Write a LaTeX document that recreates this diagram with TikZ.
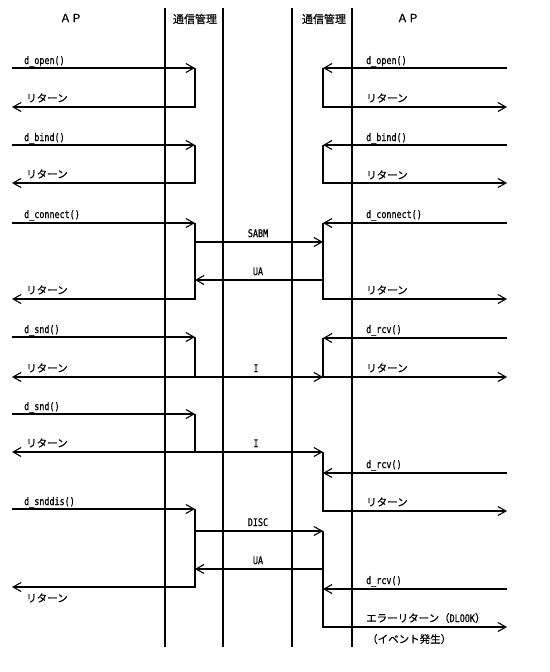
\documentclass[tikz,border=0pt]{standalone}
\usepackage{fontspec}
\setmainfont[FakeStretch=0.8, FakeBold=0.6]{DejaVu Sans Mono}
\newfontfamily\jpfont[FakeBold=0.6]{Noto Sans CJK JP}
\usetikzlibrary{arrows.meta}

\begin{document}
\begin{tikzpicture}[x=1pt, y=-1pt, >={Straight Barb[length=8pt,width=9pt]},
    msg/.style={line width=1.1pt},
    life/.style={line width=1.8pt},
    thicklife/.style={line width=2.6pt},
    lbl/.style={anchor=base west, inner sep=0pt, font=\fontsize{10.5}{12}\selectfont},
    jlbl/.style={anchor=base west, inner sep=0pt, font=\jpfont\fontsize{10.5}{12}\selectfont},
    mlbl/.style={anchor=base, inner sep=0pt, font=\fontsize{10.5}{12}\selectfont},
    head/.style={inner sep=0pt, font=\jpfont\fontsize{11}{12}\selectfont}]
    \useasboundingbox (0,0) rectangle (549,672);

    % Headings
    \node[head] (apL) at (71,18) {ＡＰ};
    \node[head] (comL) at (195,19) {通信管理};
    \node[head] (comR) at (324,19) {通信管理};
    \node[head] (apR) at (408,18) {ＡＰ};

    % Lifelines
    \coordinate (l1t) at (165,8);  \coordinate (l1b) at (165,647);
    \coordinate (l2t) at (223,8);  \coordinate (l2b) at (223,647);
    \coordinate (l3t) at (292,8);  \coordinate (l3b) at (292,647);
    \coordinate (l4t) at (352,8);  \coordinate (l4b) at (352,647);
    \draw[life] (l1t) -- (l1b);
    \draw[thicklife] (l2t) -- (l2b);
    \draw[thicklife] (l3t) -- (l3b);
    \draw[life] (l4t) -- (l4b);

    % d_open
    \coordinate (la1) at (12,68);  \coordinate (lb1) at (195,68);
    \coordinate (la2) at (12,107); \coordinate (lb2) at (195,107);
    \coordinate (ra1) at (507,68);  \coordinate (rb1) at (323,68);
    \coordinate (ra2) at (507,107); \coordinate (rb2) at (323,107);
    \draw[msg,->] (la1) -- (lb1);
    \draw[msg,->] (lb1) -- (lb2) -- (la2);
    \draw[msg,->] (ra1) -- (rb1);
    \draw[msg,->] (rb1) -- (rb2) -- (ra2);
    \node[lbl] (openL) at (24,64) {d\_open()};
    \node[jlbl] (retL1) at (26,102) {リターン};
    \node[lbl] (openR) at (366,64) {d\_open()};
    \node[jlbl] (retR1) at (366,102) {リターン};

    % d_bind
    \coordinate (la3) at (12,145);  \coordinate (lb3) at (195,145);
    \coordinate (la4) at (12,183);  \coordinate (lb4) at (195,183);
    \coordinate (ra3) at (507,145); \coordinate (rb3) at (323,145);
    \coordinate (ra4) at (507,183); \coordinate (rb4) at (323,183);
    \draw[msg,->] (la3) -- (lb3);
    \draw[msg,->] (lb3) -- (lb4) -- (la4);
    \draw[msg,->] (ra3) -- (rb3);
    \draw[msg,->] (rb3) -- (rb4) -- (ra4);
    \node[lbl] (bindL) at (24,141) {d\_bind()};
    \node[jlbl] (retL2) at (26,178) {リターン};
    \node[lbl] (bindR) at (366,141) {d\_bind()};
    \node[jlbl] (retR2) at (366,179) {リターン};

    % d_connect
    \coordinate (la5) at (12,223);  \coordinate (lb5) at (195,223);
    \coordinate (lb6) at (195,242); \coordinate (lb7) at (195,280);
    \coordinate (la8) at (12,299);  \coordinate (lb8) at (195,299);
    \coordinate (ra5) at (507,223); \coordinate (rb5) at (323,223);
    \coordinate (rb6) at (323,242); \coordinate (rb7) at (323,280);
    \coordinate (ra8) at (507,299); \coordinate (rb8) at (323,299);
    \draw[msg,->] (la5) -- (lb5);
    \draw[msg,->] (lb5) -- (lb8) -- (la8);
    \draw[msg,->] (lb6) -- (rb6);
    \draw[msg,->] (rb7) -- (lb7);
    \draw[msg,->] (ra5) -- (rb5);
    \draw[msg,->] (rb5) -- (rb8) -- (ra8);
    \node[lbl] (connL) at (24,218) {d\_connect()};
    \node[mlbl] (sabm) at (258,237) {SABM};
    \node[mlbl] (ua1) at (258,275) {UA};
    \node[jlbl] (retL3) at (26,294) {リターン};
    \node[lbl] (connR) at (366,218) {d\_connect()};
    \node[jlbl] (retR3) at (366,294) {リターン};

    % d_snd / d_rcv
    \coordinate (la9) at (12,337);   \coordinate (lb9) at (195,337);
    \coordinate (la10) at (12,377);  \coordinate (lb10) at (195,377);
    \coordinate (ra9) at (507,338);  \coordinate (rb9) at (323,338);
    \coordinate (ra10) at (507,377); \coordinate (rb10) at (323,377);
    \draw[msg,->] (la9) -- (lb9);
    \draw[msg,->] (lb9) -- (lb10) -- (la10);
    \draw[msg,->] (lb10) -- (rb10);
    \draw[msg,->] (ra9) -- (rb9);
    \draw[msg,->] (rb9) -- (rb10) -- (ra10);
    \node[lbl] (sndL1) at (24,333) {d\_snd()};
    \node[jlbl] (retL4) at (26,372) {リターン};
    \node[mlbl] (i1) at (256,372) {I};
    \node[lbl] (rcvR1) at (366,333) {d\_rcv()};
    \node[jlbl] (retR4) at (366,372) {リターン};

    % d_snd / d_rcv (later)
    \coordinate (la11) at (12,414);  \coordinate (lb11) at (195,414);
    \coordinate (la12) at (12,452);  \coordinate (lb12) at (195,452);
    \coordinate (rb12) at (323,452);
    \coordinate (ra13) at (507,473); \coordinate (rb13) at (323,473);
    \coordinate (ra14) at (507,511); \coordinate (rb14) at (323,511);
    \draw[msg,->] (la11) -- (lb11);
    \draw[msg,->] (lb11) -- (lb12) -- (la12);
    \draw[msg,->] (lb12) -- (rb12);
    \draw[msg] (rb12) -- (rb13);
    \draw[msg,->] (ra13) -- (rb13);
    \draw[msg,->] (rb13) -- (rb14) -- (ra14);
    \node[lbl] (sndL2) at (24,410) {d\_snd()};
    \node[jlbl] (retL5) at (26,447) {リターン};
    \node[mlbl] (i2) at (256,447) {I};
    \node[lbl] (rcvR2) at (366,468) {d\_rcv()};
    \node[jlbl] (retR5) at (366,506) {リターン};

    % d_snddis
    \coordinate (la15) at (12,509);  \coordinate (lb15) at (195,509);
    \coordinate (lb16) at (195,531); \coordinate (lb17) at (195,569);
    \coordinate (la18) at (12,587);  \coordinate (lb18) at (195,587);
    \coordinate (rb16) at (323,531); \coordinate (rb17) at (323,569);
    \coordinate (ra18) at (507,589); \coordinate (rb18) at (323,589);
    \coordinate (ra19) at (507,627); \coordinate (rb19) at (323,627);
    \draw[msg,->] (la15) -- (lb15);
    \draw[msg,->] (lb15) -- (lb18) -- (la18);
    \draw[msg,->] (lb16) -- (rb16);
    \draw[msg,->] (rb17) -- (lb17);
    \draw[msg] (rb16) -- (rb18);
    \draw[msg,->] (ra18) -- (rb18);
    \draw[msg,->] (rb18) -- (rb19) -- (ra19);
    \node[lbl] (disL) at (24,505) {d\_snddis()};
    \node[mlbl] (disc) at (258,526) {DISC};
    \node[mlbl] (ua2) at (258,564) {UA};
    \node[jlbl] (retL6) at (26,602) {リターン};
    \node[lbl] (rcvR3) at (366,584) {d\_rcv()};
    \node[jlbl] (errR) at (366,622) {エラーリターン（{\rmfamily DLOOK}）};
    \node[jlbl] (evtR) at (367,643) {（イベント発生）};
\end{tikzpicture}
\end{document}
